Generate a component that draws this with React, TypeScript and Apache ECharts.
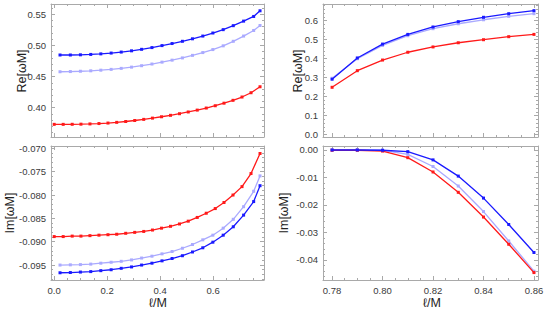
import React, { useEffect, useRef } from "react";
import * as echarts from "echarts";

// ---------- data ----------
const leftRedX = [0, 0.034, 0.068, 0.101, 0.135, 0.169, 0.203, 0.236, 0.27, 0.304, 0.338, 0.371, 0.405, 0.439, 0.473, 0.506, 0.54, 0.574, 0.608, 0.641, 0.675, 0.709, 0.743, 0.777];
const leftBlueX = [0.022, 0.061, 0.099, 0.138, 0.176, 0.215, 0.253, 0.292, 0.33, 0.369, 0.407, 0.445, 0.484, 0.522, 0.561, 0.599, 0.638, 0.676, 0.715, 0.753, 0.777];

const reRedLeft = [0.3732, 0.3732, 0.3733, 0.3735, 0.3739, 0.3745, 0.3753, 0.3764, 0.3778, 0.3794, 0.3812, 0.3832, 0.3854, 0.3877, 0.3903, 0.3931, 0.3961, 0.3994, 0.4031, 0.4072, 0.4118, 0.4171, 0.424, 0.4336];
const reBlueLeft = [0.4846, 0.4846, 0.4849, 0.4855, 0.4864, 0.4877, 0.4893, 0.4913, 0.4937, 0.4965, 0.4997, 0.503, 0.5066, 0.5106, 0.515, 0.5199, 0.5253, 0.5317, 0.539, 0.5465, 0.5556];
const reLightLeft = [0.4577, 0.458, 0.4585, 0.4592, 0.4602, 0.4615, 0.4631, 0.4651, 0.4674, 0.4701, 0.4731, 0.4763, 0.4799, 0.484, 0.4885, 0.4933, 0.4993, 0.5066, 0.515, 0.524, 0.532];

const imRedLeft = [-0.0889, -0.0889, -0.0888, -0.0888, -0.0887, -0.0886, -0.0885, -0.0884, -0.0882, -0.088, -0.0878, -0.0875, -0.0871, -0.0867, -0.0862, -0.0856, -0.0848, -0.0839, -0.0829, -0.0816, -0.08, -0.0782, -0.0754, -0.0711];
const imBlueLeft = [-0.09665, -0.0966, -0.0965, -0.0964, -0.0962, -0.096, -0.0957, -0.0954, -0.095, -0.0946, -0.0941, -0.0936, -0.093, -0.0922, -0.0913, -0.0901, -0.0886, -0.0868, -0.0843, -0.0814, -0.078];
const imLightLeft = [-0.095, -0.09495, -0.0949, -0.0948, -0.0946, -0.0944, -0.0942, -0.0939, -0.0935, -0.0931, -0.0926, -0.0921, -0.0914, -0.0906, -0.0896, -0.0886, -0.0871, -0.0852, -0.0825, -0.0792, -0.0759];

const rightX = [0.78, 0.79, 0.8, 0.81, 0.82, 0.83, 0.84, 0.85, 0.86];
const reRedRight = [0.2495, 0.337, 0.393, 0.434, 0.462, 0.484, 0.5, 0.516, 0.528];
const reBlueRight = [0.292, 0.404, 0.477, 0.528, 0.567, 0.595, 0.618, 0.637, 0.653];
const reLightRight = [0.297, 0.4, 0.47, 0.521, 0.558, 0.584, 0.605, 0.623, 0.637];
const imRedRight = [-0.0001, -0.0001, -0.0004, -0.0028, -0.008, -0.0154, -0.0244, -0.0343, -0.0446];
const imBlueRight = [0, 0, -0.0001, -0.0006, -0.0036, -0.0095, -0.0175, -0.0271, -0.0373];
const imLightRight = [0, 0, -0.0001, -0.0016, -0.006, -0.0131, -0.0224, -0.0331, -0.0441];

// tick labels
const leftXTicks = [0, 0.2, 0.4, 0.6];
const rightXTicks = [0.78, 0.8, 0.82, 0.84, 0.86];
const reLeftTicks = [0.4, 0.45, 0.5, 0.55];
const imLeftTicks = [-0.095, -0.09, -0.085, -0.08, -0.075, -0.07];
const reRightTicks = [0, 0.1, 0.2, 0.3, 0.4, 0.5, 0.6];
const imRightTicks = [-0.04, -0.03, -0.02, -0.01, 0];

// ---------- styling ----------
const RED = "#ff1a1a";
const BLUE = "#1a1aff";
const LIGHT = "#aaaaff";
const FRAME = "#a9a9a9";
const LABEL = "#3a3a3a";
const FONT = "'Liberation Sans', 'DejaVu Sans', Arial, sans-serif";

function minorTicks(min: number, max: number, step: number) {
  const out: number[] = [];
  const start = Math.ceil(min / step - 1e-9);
  const end = Math.floor(max / step + 1e-9);
  for (let i = start; i <= end; i++) out.push(+(i * step).toFixed(6));
  return out;
}

type PanelSpec = {
  grid: { left: number; top: number; width: number; height: number };
  xMin: number; xMax: number; xMajor: number[]; xMinorStep: number; xLabels: boolean; xDigits: number;
  yMin: number; yMax: number; yMajor: number[]; yMinorStep: number; yDigits: number;
  series: { xs: number[]; ys: number[]; color: string; z: number }[];
};

const panels: PanelSpec[] = [
  {
    grid: { left: 51, top: 4, width: 213, height: 133 },
    xMin: -0.012, xMax: 0.792, xMajor: leftXTicks, xMinorStep: 0.05, xLabels: false, xDigits: 1,
    yMin: 0.3529, yMax: 0.5665, yMajor: reLeftTicks, yMinorStep: 0.01, yDigits: 2,
    series: [
      { xs: leftBlueX, ys: reLightLeft, color: LIGHT, z: 1 },
      { xs: leftRedX, ys: reRedLeft, color: RED, z: 2 },
      { xs: leftBlueX, ys: reBlueLeft, color: BLUE, z: 3 },
    ],
  },
  {
    grid: { left: 51, top: 146, width: 213, height: 134 },
    xMin: -0.012, xMax: 0.792, xMajor: leftXTicks, xMinorStep: 0.05, xLabels: true, xDigits: 1,
    yMin: -0.0982, yMax: -0.0695, yMajor: imLeftTicks, yMinorStep: 0.001, yDigits: 3,
    series: [
      { xs: leftBlueX, ys: imLightLeft, color: LIGHT, z: 1 },
      { xs: leftRedX, ys: imRedLeft, color: RED, z: 2 },
      { xs: leftBlueX, ys: imBlueLeft, color: BLUE, z: 3 },
    ],
  },
  {
    grid: { left: 323, top: 4, width: 215, height: 133 },
    xMin: 0.7764, xMax: 0.8616, xMajor: rightXTicks, xMinorStep: 0.005, xLabels: false, xDigits: 2,
    yMin: -0.0121, yMax: 0.688, yMajor: reRightTicks, yMinorStep: 0.02, yDigits: 1,
    series: [
      { xs: rightX, ys: reLightRight, color: LIGHT, z: 1 },
      { xs: rightX, ys: reRedRight, color: RED, z: 2 },
      { xs: rightX, ys: reBlueRight, color: BLUE, z: 3 },
    ],
  },
  {
    grid: { left: 323, top: 146, width: 215, height: 134 },
    xMin: 0.7764, xMax: 0.8616, xMajor: rightXTicks, xMinorStep: 0.005, xLabels: true, xDigits: 2,
    yMin: -0.0473, yMax: 0.00145, yMajor: imRightTicks, yMinorStep: 0.002, yDigits: 2,
    series: [
      { xs: rightX, ys: imLightRight, color: LIGHT, z: 1 },
      { xs: rightX, ys: imRedRight, color: RED, z: 2 },
      { xs: rightX, ys: imBlueRight, color: BLUE, z: 3 },
    ],
  },
];

function fmt(v: number, d: number) {
  const s = Math.abs(v) < 1e-12 ? (0).toFixed(d) : v.toFixed(d);
  return s;
}

function buildOption() {
  const grid: any[] = [];
  const xAxis: any[] = [];
  const yAxis: any[] = [];
  const series: any[] = [];

  panels.forEach((p, gi) => {
    grid.push({ ...p.grid, containLabel: false });
    const xMinor = minorTicks(p.xMin, p.xMax, p.xMinorStep);
    const yMinor = minorTicks(p.yMin, p.yMax, p.yMinorStep);
    const base = { type: "value", gridIndex: gi, splitLine: { show: false } };
    const line = { show: true, onZero: false, lineStyle: { color: FRAME, width: 1 } };
    const noLine = { show: false, onZero: false };
    const tickMaj = (vals: number[]) => ({ show: true, inside: true, length: 4, customValues: vals, lineStyle: { color: FRAME, width: 1 } });
    const tickMin = (vals: number[]) => ({ show: true, inside: true, length: 2, customValues: vals, lineStyle: { color: FRAME, width: 1 } });

    // x axes
    xAxis.push({
      ...base, min: p.xMin, max: p.xMax, position: "bottom",
      axisLine: line, axisTick: tickMaj(p.xMajor),
      axisLabel: {
        show: p.xLabels, customValues: p.xMajor, margin: 5, color: LABEL, fontSize: 9.5, fontFamily: FONT,
        formatter: (v: number) => fmt(v, p.xDigits),
      },
    });
    xAxis.push({ ...base, min: p.xMin, max: p.xMax, position: "bottom", axisLine: noLine, axisTick: tickMin(xMinor), axisLabel: { show: false } });
    xAxis.push({ ...base, min: p.xMin, max: p.xMax, position: "top", axisLine: line, axisTick: tickMaj(p.xMajor), axisLabel: { show: false } });
    xAxis.push({ ...base, min: p.xMin, max: p.xMax, position: "top", axisLine: noLine, axisTick: tickMin(xMinor), axisLabel: { show: false } });

    // y axes
    yAxis.push({
      ...base, min: p.yMin, max: p.yMax, position: "left",
      axisLine: line, axisTick: tickMaj(p.yMajor),
      axisLabel: {
        show: true, customValues: p.yMajor, margin: 5, color: LABEL, fontSize: 9.5, fontFamily: FONT,
        formatter: (v: number) => fmt(v, p.yDigits),
      },
    });
    yAxis.push({ ...base, min: p.yMin, max: p.yMax, position: "left", axisLine: noLine, axisTick: tickMin(yMinor), axisLabel: { show: false } });
    yAxis.push({ ...base, min: p.yMin, max: p.yMax, position: "right", axisLine: line, axisTick: tickMaj(p.yMajor), axisLabel: { show: false } });
    yAxis.push({ ...base, min: p.yMin, max: p.yMax, position: "right", axisLine: noLine, axisTick: tickMin(yMinor), axisLabel: { show: false } });

    p.series.forEach((s) => {
      series.push({
        type: "line",
        xAxisIndex: gi * 4,
        yAxisIndex: gi * 4,
        data: s.xs.map((x, i) => [x, s.ys[i]]),
        symbol: "rect",
        symbolSize: 3,
        showSymbol: true,
        z: 2 + s.z,
        lineStyle: { color: s.color, width: 1.3 },
        itemStyle: { color: s.color },
        clip: true,
      });
    });
  });

  const titleStyle = { fill: "#222", fontSize: 12.5, fontFamily: FONT, align: "center", verticalAlign: "middle" };
  const graphic = [
    { type: "text", x: 22, y: 71, rotation: Math.PI / 2, style: { ...titleStyle, text: "Re[ωM]" } },
    { type: "text", x: 10, y: 213, rotation: Math.PI / 2, style: { ...titleStyle, text: "Im[ωM]" } },
    { type: "text", x: 298, y: 71, rotation: Math.PI / 2, style: { ...titleStyle, text: "Re[ωM]" } },
    { type: "text", x: 284, y: 213, rotation: Math.PI / 2, style: { ...titleStyle, text: "Im[ωM]" } },
    { type: "text", x: 158, y: 303, style: { ...titleStyle, text: "ℓ/M" } },
    { type: "text", x: 432, y: 303, style: { ...titleStyle, text: "ℓ/M" } },
  ];

  return { animation: false, backgroundColor: "#ffffff", grid, xAxis, yAxis, series, graphic };
}

export default function App() {
  const ref = useRef<HTMLDivElement>(null);
  useEffect(() => {
    if (!ref.current) return;
    const chart = echarts.init(ref.current, null, { renderer: "svg" });
    chart.setOption(buildOption() as any);
    return () => chart.dispose();
  }, []);
  return (
    <div
      ref={ref}
      style={{ position: "absolute", left: 0, top: 0, width: 547, height: 312, background: "#fff" }}
    />
  );
}
